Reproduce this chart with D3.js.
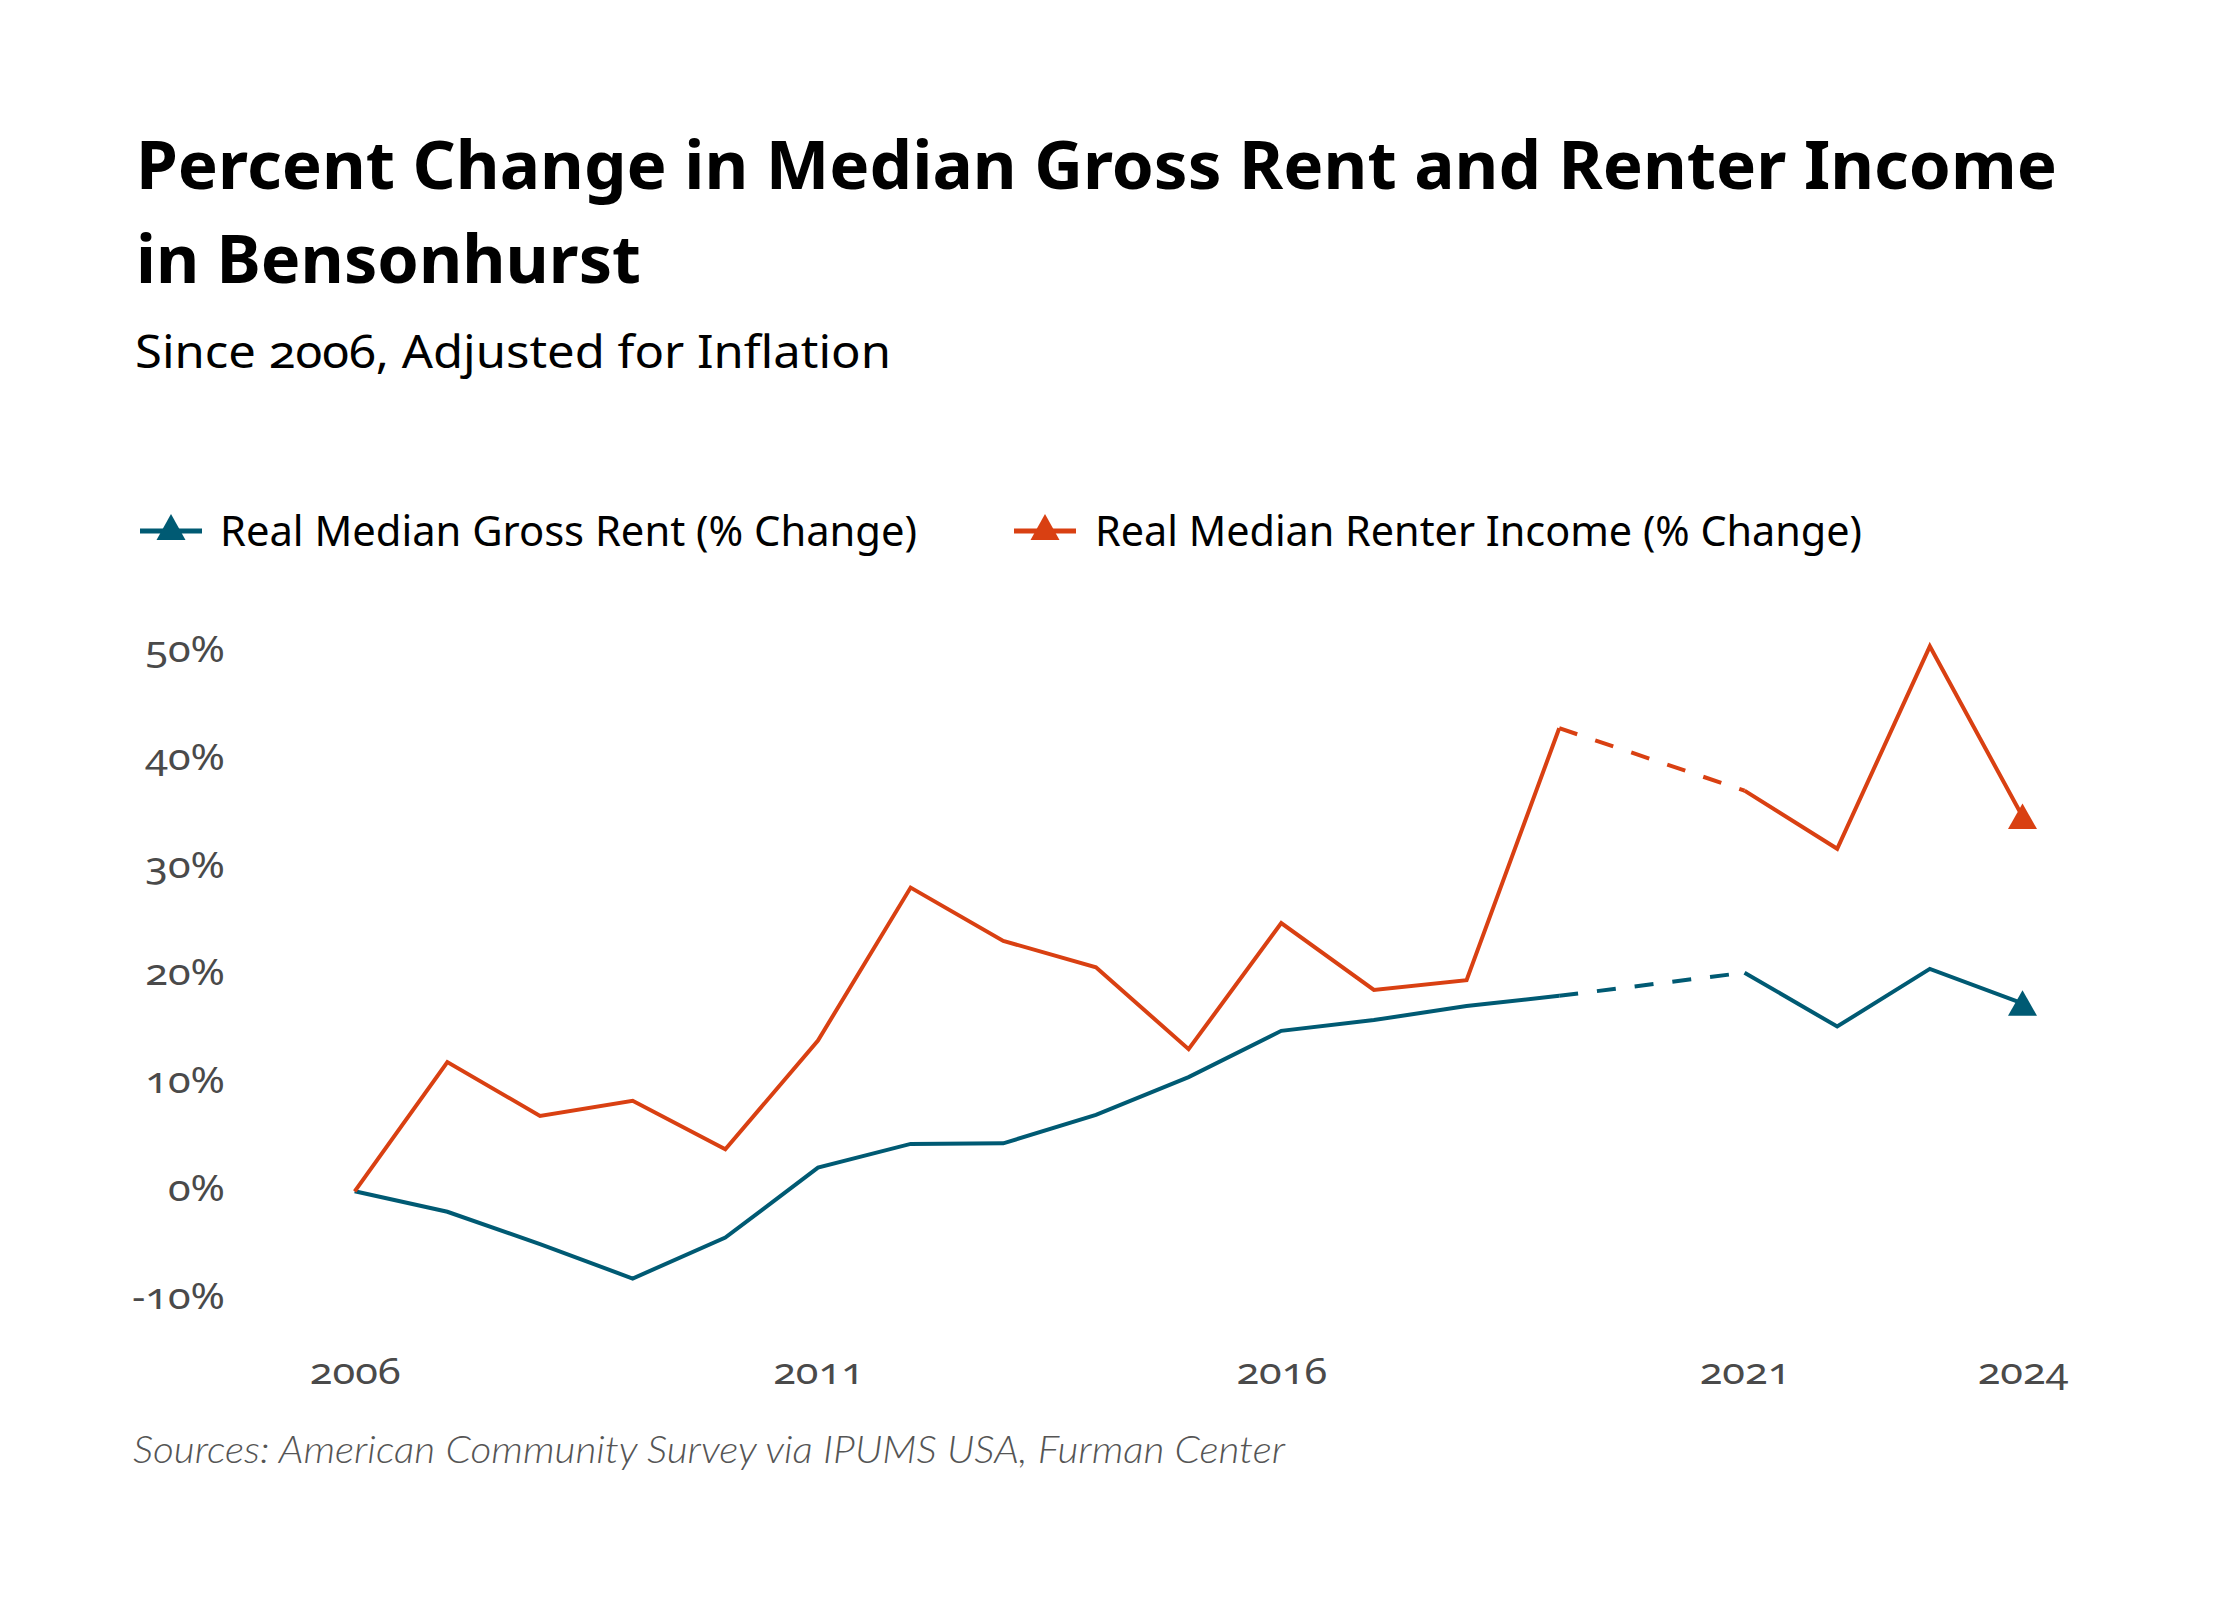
<!DOCTYPE html>
<html><head><meta charset="utf-8">
<script src="https://cdn.jsdelivr.net/npm/d3@7"></script>
<style>body{margin:0;background:#fff} svg{display:block}</style>
</head><body>
<svg id="c" width="2240" height="1600"></svg>
<script>
const years        = [2006,2007,2008,2009,2010,2011,2012,2013,2014,2015,2016,2017,2018,2019,2020,2021,2022,2023,2024];
const rentChange   = [0,-1.9,-4.9,-8.1,-4.3,2.2,4.4,4.45,7.1,10.6,14.9,15.9,17.2,18.15,null,20.3,15.3,20.65,17.45];
const incomeChange = [0,12.0,7.0,8.4,3.9,14.0,28.2,23.25,20.8,13.2,24.9,18.7,19.6,43.0,null,37.2,31.8,50.6,34.8];
const yTicks = [-10,0,10,20,30,40,50];
const xTicks = [2006,2011,2016,2021,2024];
const seriesNames = ["Real Median Gross Rent (% Change)","Real Median Renter Income (% Change)"];
const seriesColors = ["#005a73","#d94012"];
const titleLines = ["Percent Change in Median Gross Rent and Renter Income","in Bensonhurst"];
const subtitle = "Since 2006, Adjusted for Inflation";
const source = "Sources: American Community Survey via IPUMS USA, Furman Center";

const svg = d3.select("#c");
const x = d3.scaleLinear().domain([2006,2024]).range([354.7,2022.5]);
const y = d3.scaleLinear().domain([-10,50]).range([1299,652.8]);

function fit(sel, w){ sel.attr("textLength", w).attr("lengthAdjust","spacingAndGlyphs"); return sel; }

// Title
const tl = svg.append("g").attr("font-family","'Noto Sans', 'Open Sans', sans-serif").attr("font-weight",700).attr("fill","#000");
fit(tl.append("text").attr("x",136).attr("y",189).attr("font-size",66).text(titleLines[0]), 1921);
fit(tl.append("text").attr("x",136).attr("y",283).attr("font-size",66).text(titleLines[1]), 505);
fit(svg.append("text").attr("x",135).attr("y",368).attr("font-family","'Noto Sans', sans-serif")
  .attr("font-size",46).attr("fill","#000").style("font-variant-numeric","oldstyle-nums").text(subtitle), 756);

// Legend
const legendPos = [{lx:140, tx:220, w:697},{lx:1014, tx:1095, w:767}];
const triPath = (cx, cy) => `M${cx},${cy-13}L${cx+14.5},${cy+12.5}L${cx-14.5},${cy+12.5}Z`;
seriesNames.forEach((name,i)=>{
  const g = svg.append("g");
  const p = legendPos[i];
  g.append("line").attr("x1",p.lx).attr("x2",p.lx+62).attr("y1",531).attr("y2",531)
    .attr("stroke",seriesColors[i]).attr("stroke-width",5);
  g.append("path").attr("d",`M${p.lx+31},514L${p.lx+45.5},540L${p.lx+16.5},540Z`).attr("fill",seriesColors[i]);
  fit(g.append("text").attr("x",p.tx).attr("y",545.5).attr("font-family","'Noto Sans', sans-serif")
    .attr("font-size",42).attr("fill","#000").text(name), p.w);
});

// Axes
function styleTicks(sel){
  sel.attr("font-family","'Noto Sans', sans-serif").attr("font-size",37)
    .attr("fill","#4a4a4a").attr("dy",null).style("font-variant-numeric","oldstyle-nums")
    .each(function(){
      const w = this.getComputedTextLength();
      d3.select(this).attr("textLength", w*1.12).attr("lengthAdjust","spacingAndGlyphs");
    });
}
const yAxis = svg.append("g").attr("transform","translate(225,0)")
  .call(d3.axisLeft(y).tickValues(yTicks).tickSize(0).tickPadding(0).tickFormat(d=>d+"%"));
yAxis.select(".domain").remove();
yAxis.selectAll("text").attr("y",9).call(styleTicks);

const xAxis = svg.append("g").attr("transform","translate(0,1384)")
  .call(d3.axisBottom(x).tickValues(xTicks).tickSize(0).tickPadding(0).tickFormat(d3.format("d")));
xAxis.select(".domain").remove();
xAxis.selectAll("text").attr("y",0).call(styleTicks);

// Lines
const series = [rentChange, incomeChange];
const line = d3.line().defined(d=>d.v!==null).x(d=>x(d.yr)).y(d=>y(d.v));
series.forEach((vals,i)=>{
  const pts = years.map((yr,j)=>({yr, v:vals[j]}));
  svg.append("path").datum(pts).attr("d",line).attr("fill","none")
    .attr("stroke",seriesColors[i]).attr("stroke-width",4).attr("stroke-linejoin","miter");
  const gapPts = [];
  pts.forEach((p,j)=>{ if(p.v===null) gapPts.push([pts[j-1], pts[j+1]]); });
  gapPts.forEach(seg=>{
    svg.append("path").datum(seg).attr("d",d3.line().x(d=>x(d.yr)).y(d=>y(d.v)))
      .attr("fill","none").attr("stroke",seriesColors[i]).attr("stroke-width",4)
      .attr("stroke-dasharray","19,19");
  });
  const last = pts[pts.length-1];
  svg.append("path").attr("d",triPath(x(last.yr), y(last.v))).attr("fill",seriesColors[i]);
});

// Source
fit(svg.append("text").attr("x",133).attr("y",1463).attr("font-family","'Lato', 'Noto Sans', sans-serif")
  .attr("font-style","italic").attr("font-weight",300).attr("font-size",37).attr("fill","#555").text(source), 1152);
</script>
</body></html>
